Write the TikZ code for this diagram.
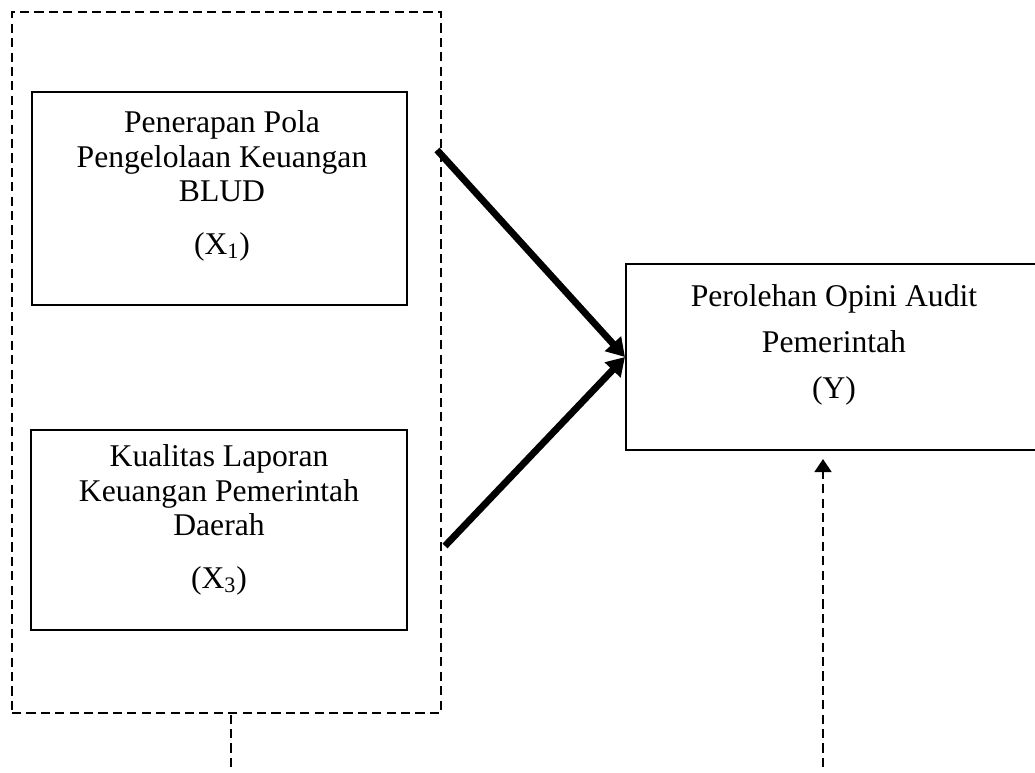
\documentclass[tikz,border=0pt]{standalone}
\usepackage{fontspec}
\setmainfont{Liberation Serif}
\usetikzlibrary{arrows.meta}

\tikzset{
  varbox/.style = {draw, line width=1.2pt, inner sep=0pt},
  grpbox/.style = {draw, line width=0.95pt, dash pattern=on 5.2pt off 3pt, inner sep=0pt},
  txt/.style = {align=center, font=\fontsize{18}{19.5}\selectfont},
  effect/.style = {line width=3.9pt, -{Triangle[length=0.36cm,width=0.42cm]}},
  link/.style = {line width=0.95pt, dash pattern=on 5.2pt off 3pt},
}

\begin{document}
\begin{tikzpicture}[x=0.02cm, y=-0.02cm]
			\useasboundingbox (0,0) rectangle (1035,773);
			\clip (0,0) rectangle (1035,773);
			
			% Variabel bebas
			\node[grpbox, minimum width=8.58cm, minimum height=14.02cm] (grp) at (226.5,362.5) {};
			\node[varbox, minimum width=7.5cm, minimum height=4.26cm] (x1) at (219.5,198.5) {};
			\node[varbox, minimum width=7.52cm, minimum height=4cm] (x3) at (219,530) {};
			\node[txt] (tx1) at (222,186) {Penerapan Pola\\ Pengelolaan Keuangan\\ BLUD\\[10.5pt] (X\textsubscript{1})};
			\node[txt] (tx3) at (219,520) {Kualitas Laporan\\ Keuangan Pemerintah\\ Daerah\\[10.5pt] (X\textsubscript{3})};
			
			% Variabel terikat
			\node[varbox, minimum width=8.34cm, minimum height=3.72cm] (yb) at (834.5,357) {};
			\node[txt] (ty) at (834,345) {Perolehan Opini Audit\\[6.5pt] Pemerintah\\[6.5pt] (Y)};
			
			% Panah
			\coordinate (a1) at (437,150);
			\coordinate (a2) at (445,546);
			\draw[effect] (a1) -- (yb.west);
			\draw[effect] (a2) -- (yb.west);
			
			\coordinate (b1) at (231,767);
			\coordinate (b2) at (823,767);
			\draw[link] (b1) -- (b1 |- grp.south);
			\draw[link, -{Triangle[length=0.26cm,width=0.34cm]}, shorten >=0.16cm] (b2) -- (b2 |- yb.south);
		\end{tikzpicture}
\end{document}
